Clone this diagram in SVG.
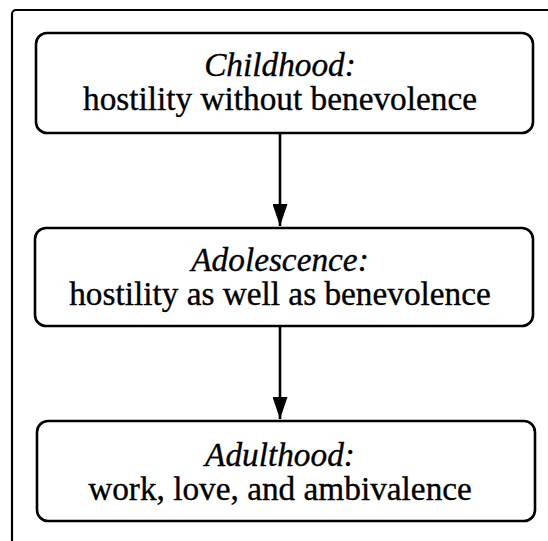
<svg xmlns="http://www.w3.org/2000/svg" width="548" height="541" viewBox="0 0 548 541">
<style>
.frame{fill:none;stroke:#000;stroke-width:2.2}
.box{fill:#fff;stroke:#000;stroke-width:2.6}
.t{font-family:"Liberation Serif","Times New Roman",serif;font-size:33.3px;fill:#000;stroke:#000;stroke-width:0.35;text-anchor:middle}
.i{font-style:italic}
.conn{stroke:#000;stroke-width:2.6;fill:none}
</style>
<defs>
<marker id="ah" markerWidth="22" markerHeight="15" refX="22" refY="7.5" orient="auto" markerUnits="userSpaceOnUse" viewBox="0 0 22 15">
<path d="M0,0 L22,7.5 L0,15 Z" fill="#000"/>
</marker>
</defs>
<rect class="frame" x="12" y="10" width="600" height="600" rx="4"/>
<g id="connectors">
<line class="conn" x1="280" y1="133" x2="280" y2="226" marker-end="url(#ah)"/>
<line class="conn" x1="280" y1="326" x2="280" y2="419" marker-end="url(#ah)"/>
</g>
<g id="childhood">
<rect class="box" x="36" y="33" width="497" height="100" rx="11"/>
<text class="t i" x="280" y="76">Childhood:</text>
<text class="t" x="280" y="110">hostility without benevolence</text>
</g>
<g id="adolescence">
<rect class="box" x="35" y="228" width="498" height="98" rx="11"/>
<text class="t i" x="280" y="271">Adolescence:</text>
<text class="t" x="280" y="305">hostility as well as benevolence</text>
</g>
<g id="adulthood">
<rect class="box" x="37" y="421" width="498" height="100" rx="11"/>
<text class="t i" x="280" y="466">Adulthood:</text>
<text class="t" x="280" y="500">work, love, and ambivalence</text>
</g>
</svg>
